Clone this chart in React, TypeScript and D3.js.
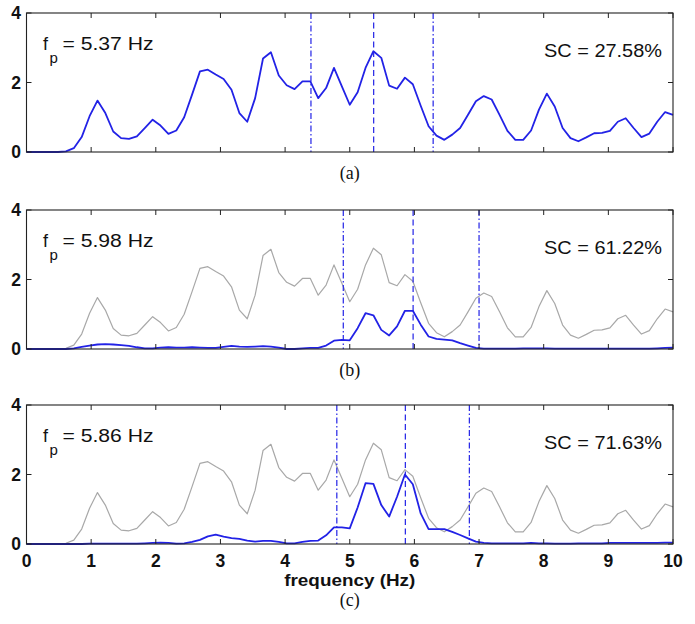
import React from 'react';
import * as d3 from 'd3';

// sample frequencies (Hz)
const frequencies: number[] = d3.range(83).map((i) => (i * 10) / 82);

// reference spectrum (panel a blue, panels b/c grey)
const spectrumRef: number[] = [
  0, 0, 0, 0, 0, 0.02, 0.11, 0.43, 1.03, 1.48,
  1.12, 0.59, 0.40, 0.38, 0.45, 0.69, 0.93, 0.76, 0.52, 0.62,
  1.00, 1.65, 2.32, 2.37, 2.23, 2.10, 1.79, 1.12, 0.87, 1.55,
  2.69, 2.87, 2.20, 1.92, 1.81, 2.03, 2.03, 1.55, 1.84, 2.42,
  1.89, 1.36, 1.72, 2.42, 2.90, 2.71, 1.91, 1.82, 2.14, 1.95,
  1.33, 0.74, 0.47, 0.35, 0.50, 0.69, 1.07, 1.46, 1.61, 1.51,
  1.07, 0.61, 0.35, 0.35, 0.62, 1.22, 1.68, 1.31, 0.69, 0.40,
  0.31, 0.42, 0.54, 0.55, 0.61, 0.87, 0.97, 0.69, 0.43, 0.53,
  0.87, 1.15, 1.07,
];

// filtered spectrum, panel b
const spectrumB: number[] = [
  0, 0, 0, 0, 0, 0, 0.02, 0.06, 0.10, 0.13,
  0.14, 0.13, 0.11, 0.09, 0.05, 0.02, 0.02, 0.04, 0.05, 0.04,
  0.04, 0.05, 0.04, 0.03, 0.03, 0.06, 0.09, 0.07, 0.06, 0.07,
  0.08, 0.07, 0.04, 0.0, 0.0, 0.02, 0.03, 0.03, 0.10, 0.24,
  0.26, 0.25, 0.60, 1.03, 0.97, 0.55, 0.39, 0.65, 1.10, 1.10,
  0.70, 0.36, 0.29, 0.27, 0.25, 0.17, 0.10, 0.03, 0.01, 0.01,
  0.01, 0.01, 0.01, 0.02, 0.02, 0.02, 0.02, 0.01, 0.01, 0.01,
  0.01, 0.01, 0.01, 0.01, 0.01, 0.01, 0.01, 0.01, 0.01, 0.01,
  0.02, 0.03, 0.04,
];

// filtered spectrum, panel c
const spectrumC: number[] = [
  0, 0, 0, 0, 0, 0, 0, 0, 0.01, 0.01,
  0.01, 0.01, 0.01, 0.01, 0.01, 0.02, 0.03, 0.04, 0.03, 0.01,
  0.02, 0.06, 0.12, 0.22, 0.27, 0.21, 0.17, 0.15, 0.10, 0.07,
  0.09, 0.09, 0.06, 0.02, 0.02, 0.06, 0.09, 0.10, 0.25, 0.48,
  0.48, 0.45, 1.05, 1.75, 1.73, 1.12, 0.79, 1.36, 2.00, 1.72,
  0.88, 0.43, 0.43, 0.43, 0.35, 0.26, 0.16, 0.07, 0.03, 0.02,
  0.02, 0.02, 0.02, 0.02, 0.03, 0.02, 0.02, 0.01, 0.01, 0.01,
  0.02, 0.02, 0.02, 0.02, 0.03, 0.03, 0.03, 0.03, 0.03, 0.03,
  0.03, 0.04, 0.04,
];

const peakFreqs: number[] = [5.37, 5.98, 5.86];
const bandLow: number[] = [4.40, 4.90, 4.80];
const bandHigh: number[] = [6.29, 7.00, 6.85];
const scValues: string[] = ['27.58%', '61.22%', '71.63%'];
const panelLabels: string[] = ['(a)', '(b)', '(c)'];
const xTicks: number[] = [0, 1, 2, 3, 4, 5, 6, 7, 8, 9, 10];
const yTicks: number[] = [0, 2, 4];
const xLabel = 'frequency (Hz)';

const BLUE = '#2222e6';
const GREY = '#a8a8a8';
const SANS = '"Liberation Sans", Arial, Helvetica, sans-serif';
const SERIF = '"Liberation Serif", "Times New Roman", serif';

const LEFT = 26.5;
const RIGHT = 673;
const PANEL_TOPS = [13, 210, 405];
const PANEL_H = 139;

export default function App() {
  const x = d3.scaleLinear().domain([0, 10]).range([LEFT, RIGHT]);

  const panels = [0, 1, 2].map((p) => {
    const top = PANEL_TOPS[p];
    const bottom = top + PANEL_H;
    const y = d3.scaleLinear().domain([0, 4]).range([bottom, top]);
    const line = d3
      .line<number>()
      .x((_, i) => x(frequencies[i]))
      .y((d) => y(d));
    const blueData = p === 0 ? spectrumRef : p === 1 ? spectrumB : spectrumC;
    const cx = (LEFT + RIGHT) / 2;
    return (
      <g key={p}>
        {p > 0 && (
          <path d={line(spectrumRef) || ''} fill="none" stroke={GREY} strokeWidth={1.2} strokeLinejoin="round" />
        )}
        {[bandLow[p], bandHigh[p]].map((f, k) => (
          <line key={'b' + k} x1={x(f)} x2={x(f)} y1={top} y2={bottom} stroke={BLUE} strokeWidth={1.2} strokeDasharray="6,2.5,1.5,2.5" />
        ))}
        <line x1={x(peakFreqs[p])} x2={x(peakFreqs[p])} y1={top} y2={bottom} stroke={BLUE} strokeWidth={1.2} strokeDasharray="6,3.5" />
        <path d={line(blueData) || ''} fill="none" stroke={BLUE} strokeWidth={1.8} strokeLinejoin="round" />
        <rect x={LEFT} y={top} width={RIGHT - LEFT} height={PANEL_H} fill="none" stroke="#222" strokeWidth={1.1} />
        {xTicks.map((t) => (
          <g key={'xt' + t}>
            <line x1={x(t)} x2={x(t)} y1={bottom} y2={bottom - 5} stroke="#222" strokeWidth={1} />
            <line x1={x(t)} x2={x(t)} y1={top} y2={top + 5} stroke="#222" strokeWidth={1} />
          </g>
        ))}
        {yTicks.map((t) => (
          <g key={'yt' + t}>
            <line x1={LEFT} x2={LEFT + 5} y1={y(t)} y2={y(t)} stroke="#222" strokeWidth={1} />
            <line x1={RIGHT} x2={RIGHT - 5} y1={y(t)} y2={y(t)} stroke="#222" strokeWidth={1} />
            <text x={21} y={y(t) + 6.3} textAnchor="end" fontFamily={SANS} fontWeight="bold" fontSize={17.5} fill="#111">
              {t}
            </text>
          </g>
        ))}
        {p === 2 &&
          xTicks.map((t) => (
            <text key={'xl' + t} x={x(t)} y={bottom + 23} textAnchor="middle" fontFamily={SANS} fontWeight="bold" fontSize={17.5} fill="#111">
              {t}
            </text>
          ))}
        <text x={43} y={top + 37} fontFamily={SANS} fontSize={18} fill="#111">f</text>
        <text x={49.5} y={top + 50} fontFamily={SANS} fontSize={15} fill="#111">p</text>
        <text x={62.5} y={top + 37} fontFamily={SANS} fontSize={17.5} fill="#111" textLength={91} lengthAdjust="spacingAndGlyphs">
          {`= ${peakFreqs[p].toFixed(2)} Hz`}
        </text>
        <text x={544} y={top + 43.5} fontFamily={SANS} fontSize={17.5} fill="#111" textLength={118} lengthAdjust="spacingAndGlyphs">
          {`SC = ${scValues[p]}`}
        </text>
        {p === 2 && (
          <text x={cx} y={586} textAnchor="middle" fontFamily={SANS} fontWeight="bold" fontSize={17} fill="#111" textLength={131} lengthAdjust="spacingAndGlyphs">
            {xLabel}
          </text>
        )}
        <text x={cx} y={p === 2 ? 606 : bottom + 27} textAnchor="middle" fontFamily={SERIF} fontSize={18} fill="#111">
          {panelLabels[p]}
        </text>
      </g>
    );
  });

  return (
    <svg
      width={695}
      height={624}
      viewBox="0 0 695 624"
      style={{ position: 'absolute', left: 0, top: 0, display: 'block', background: '#fff' }}
    >
      <rect x={0} y={0} width={695} height={624} fill="#fff" />
      {panels}
    </svg>
  );
}
